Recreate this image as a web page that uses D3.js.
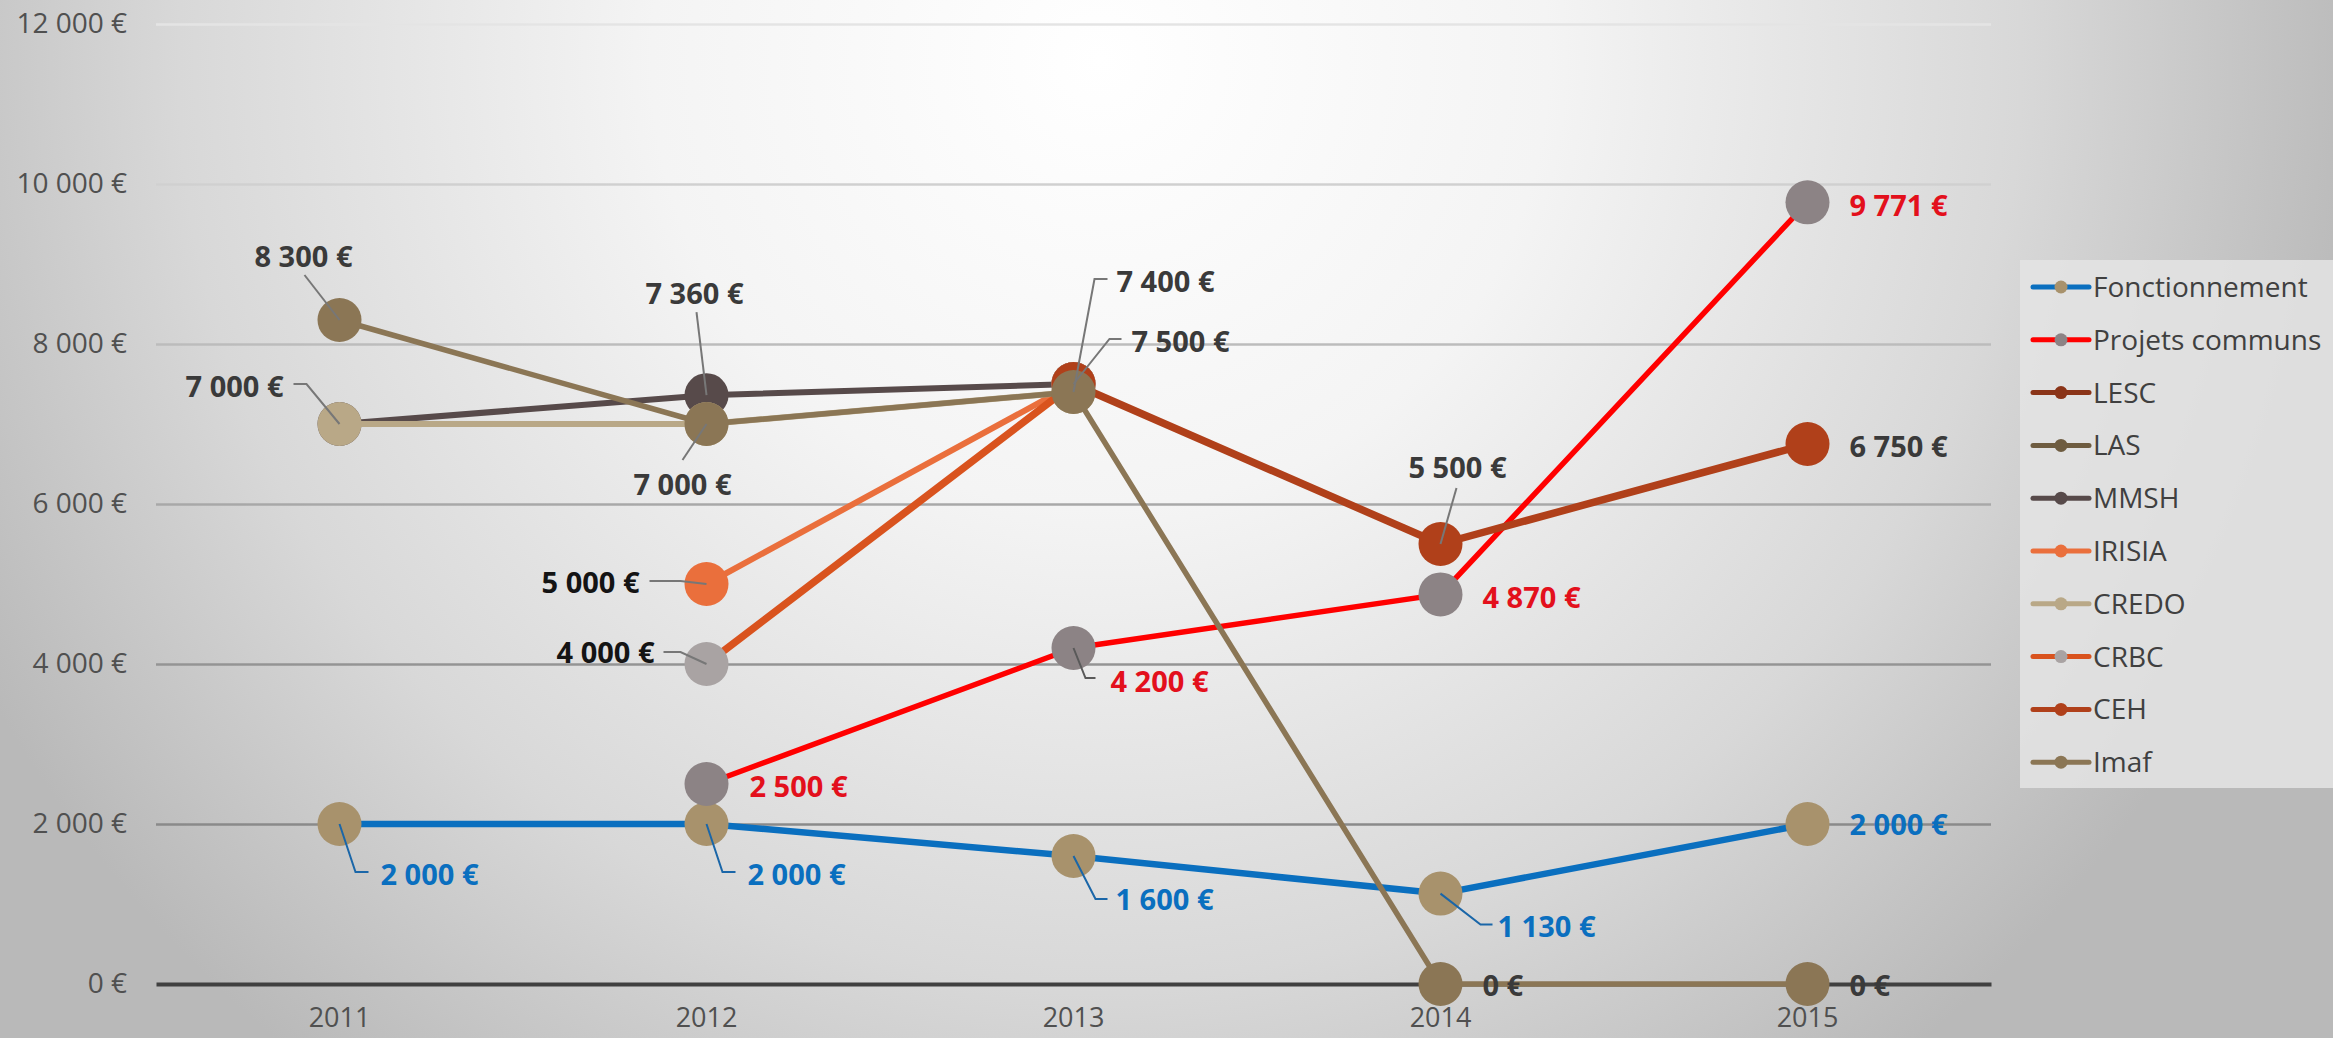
<!DOCTYPE html>
<html><head><meta charset="utf-8">
<script src="https://cdn.jsdelivr.net/npm/d3@7"></script>
<style>
html,body{margin:0;padding:0;overflow:hidden;background:#fff}
svg{display:block}
text{font-family:"Open Sans","Liberation Sans",sans-serif}
</style></head><body>
<svg id="chart" width="2333" height="1038"></svg>
<script>
// ---------- data ----------
const years = ["2011", "2012", "2013", "2014", "2015"];
const seriesNames = ["Fonctionnement", "Projets communs", "LESC", "LAS", "MMSH", "IRISIA", "CREDO", "CRBC", "CEH", "Imaf"];
const fonctionnement = [2000, 2000, 1600, 1130, 2000];
const projetsCommuns = [null, 2500, 4200, 4870, 9771];
const lesc = [null, null, null, null, null];
const las = [null, null, null, null, null];
const mmsh = [7000, 7360, 7500, null, null];
const irisia = [null, 5000, 7500, null, null];
const credo = [7000, 7000, 7400, null, null];
const crbc = [null, 4000, 7500, null, null];
const ceh = [null, null, 7500, 5500, 6750];
const imaf = [8300, 7000, 7400, 0, 0];
const yTicks = [0, 2000, 4000, 6000, 8000, 10000, 12000];

const seriesValues = [fonctionnement, projetsCommuns, lesc, las, mmsh, irisia, credo, crbc, ceh, imaf];

// ---------- styles ----------
const styles = {
  "Fonctionnement": {line: "#0a6fbf", marker: "#a8926c", width: 6.5, label: "#0a6fbf", leader: "#1a66a8"},
  "Projets communs": {line: "#ff0000", marker: "#8c8385", width: 5.5, label: "#e3101c", leader: "#595959"},
  "LESC": {line: "#8a3418", marker: "#8a3418", width: 6, label: "#333", leader: "#777"},
  "LAS": {line: "#6e5c40", marker: "#6e5c40", width: 6, label: "#333", leader: "#777"},
  "MMSH": {line: "#574a4a", marker: "#574a4a", width: 6, label: "#3a3a3a", leader: "#777"},
  "IRISIA": {line: "#ea6f3c", marker: "#ea6f3c", width: 6, label: "#141414", leader: "#777"},
  "CREDO": {line: "#b9a887", marker: "#b9a887", width: 6, label: "#3a3a3a", leader: "#777"},
  "CRBC": {line: "#d9531e", marker: "#a9a3a3", width: 7.5, label: "#141414", leader: "#777"},
  "CEH": {line: "#b0401a", marker: "#b0401a", width: 7.5, label: "#3a3a3a", leader: "#777"},
  "Imaf": {line: "#8b7655", marker: "#8b7655", width: 5.5, label: "#3a3a3a", leader: "#777"}
};

// data-label placement (relative to the point) — styling only
const labelPlacement = [
  {s: "Fonctionnement", y: "2011", dx: 41, dy: 51, anchor: "start", leader: [[0, 0], [16, 48], [29, 48]]},
  {s: "Fonctionnement", y: "2012", dx: 41, dy: 51, anchor: "start", leader: [[0, 0], [16, 48], [29, 48]]},
  {s: "Fonctionnement", y: "2013", dx: 42, dy: 44, anchor: "start", leader: [[0, 0], [22, 43], [34, 43]]},
  {s: "Fonctionnement", y: "2014", dx: 57, dy: 33, anchor: "start", leader: [[0, 0], [40, 31], [52, 31]]},
  {s: "Fonctionnement", y: "2015", dx: 42, dy: 1, anchor: "start"},
  {s: "Projets communs", y: "2012", dx: 43, dy: 3, anchor: "start"},
  {s: "Projets communs", y: "2013", dx: 37, dy: 34, anchor: "start", leader: [[0, 0], [12, 30], [22, 30]]},
  {s: "Projets communs", y: "2014", dx: 42, dy: 3, anchor: "start"},
  {s: "Projets communs", y: "2015", dx: 42, dy: 3, anchor: "start"},
  {s: "MMSH", y: "2012", dx: -12, dy: -102, anchor: "middle", leader: [[0, 0], [-10, -83]]},
  {s: "CREDO", y: "2011", dx: -56, dy: -37, anchor: "end", leader: [[0, 0], [-33, -40], [-46, -40]]},
  {s: "Imaf", y: "2011", dx: -36, dy: -63, anchor: "middle", leader: [[0, 0], [-35, -45]]},
  {s: "Imaf", y: "2012", dx: -24, dy: 61, anchor: "middle", leader: [[0, 0], [-24, 36]]},
  {s: "Imaf", y: "2013", dx: 43, dy: -110, anchor: "start", leader: [[0, 0], [21, -113], [34, -113]]},
  {s: "CEH", y: "2013", dx: 58, dy: -42, anchor: "start", leader: [[0, 0], [36, -45], [48, -45]]},
  {s: "CEH", y: "2014", dx: 17, dy: -76, anchor: "middle", leader: [[0, 0], [16, -56]]},
  {s: "CEH", y: "2015", dx: 42, dy: 3, anchor: "start"},
  {s: "IRISIA", y: "2012", dx: -67, dy: -1, anchor: "end", leader: [[0, 0], [-26, -3], [-57, -3]]},
  {s: "CRBC", y: "2012", dx: -52, dy: -11, anchor: "end", leader: [[0, 0], [-26, -12], [-43, -12]]},
  {s: "Imaf", y: "2014", dx: 42, dy: 2, anchor: "start"},
  {s: "Imaf", y: "2015", dx: 42, dy: 2, anchor: "start"}
];

// ---------- setup ----------
const W = 2333, H = 1038;
const svg = d3.select("#chart");
const locale = d3.formatLocale({decimal: ",", thousands: "\u00a0", grouping: [3], currency: ["", "\u00a0€"]});
const fmt = locale.format("$,.0f");

const defs = svg.append("defs");
const bg = defs.append("radialGradient").attr("id", "bg")
  .attr("gradientUnits", "userSpaceOnUse").attr("cx", 1100).attr("cy", 60).attr("r", 1280);
bg.append("stop").attr("offset", 0).attr("stop-color", "#ffffff");
bg.append("stop").attr("offset", 0.35).attr("stop-color", "#f4f4f4");
bg.append("stop").attr("offset", 0.72).attr("stop-color", "#d8d8d8");
bg.append("stop").attr("offset", 1).attr("stop-color", "#b9b9b9");
svg.append("rect").attr("width", W).attr("height", H).attr("fill", "url(#bg)");

const plotLeft = 156, plotRight = 1991;
const x = d3.scaleBand().domain(years).range([plotLeft, plotRight]).padding(0);
const cx = d => x(d) + x.bandwidth() / 2;
const y = d3.scaleLinear().domain([0, 12000]).range([984, 24]);

// gridlines + y axis
const gridColor = v => d3.interpolateRgb("#8a8a8a", "#e4e4e4")(Math.max(0, (v - 3000) / 9000));
const yAxis = svg.append("g").attr("transform", `translate(${plotLeft},0)`)
  .call(d3.axisLeft(y).tickValues(yTicks).tickFormat(fmt)
    .tickSize(-(plotRight - plotLeft)).tickSizeOuter(0).tickPadding(29));
yAxis.select(".domain").remove();
yAxis.selectAll(".tick line").attr("stroke", d => gridColor(d)).attr("stroke-width", 2.5)
  .attr("display", d => d === 0 ? "none" : null);
yAxis.selectAll(".tick text").attr("fill", "#505050").attr("font-size", 28);

// x axis
const xAxis = svg.append("g").attr("transform", `translate(0,${y(0)})`)
  .call(d3.axisBottom(x).tickSize(0).tickSizeOuter(0));
xAxis.select(".domain").attr("stroke", "#404040").attr("stroke-width", 4);
xAxis.selectAll(".tick text").attr("fill", "#505050").attr("font-size", 27)
  .attr("y", 43).attr("dy", 0);

// ---------- series ----------
const line = d3.line().defined(d => d.v !== null).x(d => cx(d.year)).y(d => y(d.v));
const series = seriesNames.map((name, i) => ({
  name, st: styles[name],
  pts: years.map((yr, j) => ({year: yr, v: seriesValues[i][j]}))
}));

const gSeries = svg.append("g");
series.forEach(s => {
  const g = gSeries.append("g");
  g.append("path").datum(s.pts).attr("d", line).attr("fill", "none")
    .attr("stroke", s.st.line).attr("stroke-width", s.st.width)
    .attr("stroke-linejoin", "round").attr("stroke-linecap", "round");
  g.selectAll("circle").data(s.pts.filter(d => d.v !== null)).join("circle")
    .attr("cx", d => cx(d.year)).attr("cy", d => y(d.v)).attr("r", 22)
    .attr("fill", s.st.marker);
});

// ---------- data labels ----------
const gLab = svg.append("g");
labelPlacement.forEach(p => {
  const si = seriesNames.indexOf(p.s);
  const yi = years.indexOf(p.y);
  const v = seriesValues[si][yi];
  const st = styles[p.s];
  const mx = cx(p.y), my = y(v);
  if (p.leader) {
    gLab.append("polyline")
      .attr("points", p.leader.map(q => `${mx + q[0]},${my + q[1]}`).join(" "))
      .attr("fill", "none").attr("stroke", st.leader).attr("stroke-width", 2);
  }
  gLab.append("text").attr("x", mx + p.dx).attr("y", my + p.dy).attr("dy", "0.36em")
    .attr("text-anchor", p.anchor).attr("font-size", 29).attr("font-weight", "bold")
    .attr("fill", st.label).text(fmt(v));
});

// ---------- legend ----------
const lg = svg.append("g");
lg.append("rect").attr("x", 2020).attr("y", 260).attr("width", 313).attr("height", 528)
  .attr("fill", "#e4e4e4").attr("opacity", 0.85);
seriesNames.forEach((name, i) => {
  const st = styles[name];
  const ly = 287 + i * 52.8;
  lg.append("line").attr("x1", 2033).attr("x2", 2089).attr("y1", ly).attr("y2", ly)
    .attr("stroke", st.line).attr("stroke-width", 5).attr("stroke-linecap", "round");
  lg.append("circle").attr("cx", 2061).attr("cy", ly).attr("r", 6.5).attr("fill", st.marker);
  lg.append("text").attr("x", 2093).attr("y", ly).attr("dy", "0.36em")
    .attr("font-size", 28).attr("fill", "#404040").text(name);
});
</script>
</body></html>
